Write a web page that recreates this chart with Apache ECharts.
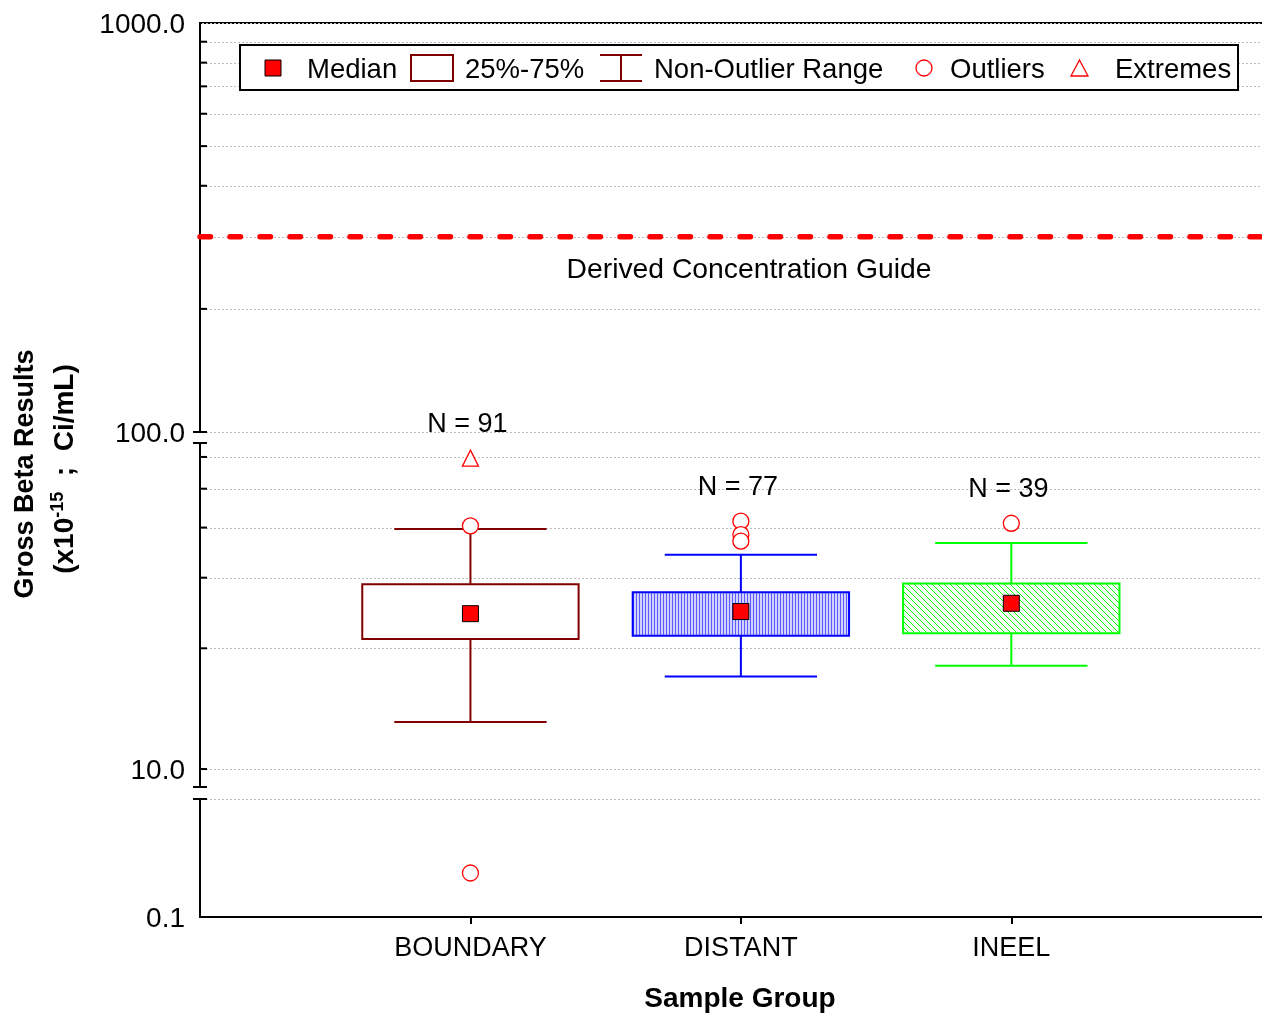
<!DOCTYPE html>
<html>
<head>
<meta charset="utf-8">
<script src="https://cdn.jsdelivr.net/npm/echarts@6/dist/echarts.min.js"></script>
<style>
html,body{margin:0;padding:0;background:#fff;}
#c{width:1262px;height:1013px;}
</style>
</head>
<body>
<div id="c"></div>
<script>
// ---------------- data ----------------
const categories = ['BOUNDARY', 'DISTANT', 'INEEL'];
const counts = [91, 77, 39];
const whiskerLow = [13.1, 17.0, 18.1];
const quartile1 = [21.1, 21.5, 21.8];
const medians = [24.4, 24.7, 25.9];
const quartile3 = [28.9, 27.6, 29.0];
const whiskerHigh = [39.7, 34.2, 36.6];
// [category index, value]
const outliers = [[0, 40.4], [0, 0.236], [1, 41.5], [1, 38.4], [1, 37.0], [2, 41.0]];
const extremes = [[0, 59.6]];
const dcgValue = 300;

// axis segments (broken log axis) and tick values
const segTop = { min: 100, max: 1000 };
const segMid = { min: 9.02, max: 65 };
const segLow = { min: 0.1, max: 1 };
const topLabels = [100, 1000];
const midLabels = [10];
const lowLabels = [0.1];
const topMinor = [200, 300, 400, 500, 600, 700, 800, 900];
const midMinor = [20, 30, 40, 50, 60];

// ---------------- styling ----------------
const FONT = '"Liberation Sans", Arial, sans-serif';
const X_MAX = 3.927;
const BOX_W = 0.80, CAP_W = 0.563;
const boxColors = ['#800000', '#0000ff', '#00ff00'];

function makePattern(kind) {
  const cv = document.createElement('canvas');
  if (kind === 'vertical') {
    cv.width = 3; cv.height = 3;
    const g = cv.getContext('2d');
    g.fillStyle = '#d2d2ff'; g.fillRect(0, 0, 3, 3);
    g.fillStyle = '#5a5aff'; g.fillRect(0, 0, 1, 3);
  } else {
    const n = 6;
    cv.width = n; cv.height = n;
    const g = cv.getContext('2d');
    g.fillStyle = '#ffffff'; g.fillRect(0, 0, n, n);
    g.strokeStyle = '#00ff00'; g.lineWidth = 1;
    g.beginPath();
    g.moveTo(-1, -1); g.lineTo(n + 1, n + 1);
    g.moveTo(n - 1, -1); g.lineTo(n + 1, 1);
    g.moveTo(-1, n - 1); g.lineTo(1, n + 1);
    g.stroke();
  }
  return { image: cv, repeat: 'repeat' };
}
const boxFills = ['#ffffff', makePattern('vertical'), makePattern('diag')];

function labelFmt(wanted) {
  return function (v) {
    for (const w of wanted) {
      if (Math.abs(Math.log10(v) - Math.log10(w)) < 1e-6) return '{t|' + w.toFixed(1) + '}';
    }
    return '';
  };
}

function yAxisCfg(gi, seg, wanted) {
  return {
    gridIndex: gi, type: 'log', logBase: 10, min: seg.min, max: seg.max,
    axisLine: { show: true, onZero: false, lineStyle: { color: '#000', width: 2 } },
    axisTick: { show: false },
    splitLine: { show: false },
    minorTick: { show: false },
    axisLabel: {
      show: true, margin: 15, color: '#000', fontSize: 28, fontFamily: FONT,
      showMinLabel: true, showMaxLabel: true, formatter: labelFmt(wanted),
      rich: { t: { color: '#000', fontSize: 28, fontFamily: FONT, padding: [5, 0, 0, 0] } }
    }
  };
}

// guide series: gridlines (kind 0), inner ticks (kind 1), break marks (kind 2)
function guideSeries(gi, gridVals, inTicks, breakTicks) {
  const data = [];
  gridVals.forEach(v => data.push([v, 0]));
  inTicks.forEach(v => data.push([v, 1]));
  breakTicks.forEach(v => data.push([v, 2]));
  return {
    type: 'custom', xAxisIndex: gi, yAxisIndex: gi, silent: true, z: 1,
    dimensions: ['v', 'kind'], encode: { y: 0 },
    data: data,
    renderItem: function (params, api) {
      const v = api.value(0), kind = api.value(1);
      const p = api.coord([0, v]);
      const r = api.coord([X_MAX, v]);
      const y = Math.round(p[1]) + 0.5;
      if (kind === 0) {
        return { type: 'line', shape: { x1: p[0] + 2, y1: y, x2: r[0], y2: y },
          style: { stroke: '#bcbcbc', lineWidth: 1, lineDash: [2, 2] } };
      }
      if (kind === 1) {
        return { type: 'line', shape: { x1: p[0], y1: p[1], x2: p[0] + 7, y2: p[1] },
          style: { stroke: '#000', lineWidth: 2 } };
      }
      return { type: 'line', shape: { x1: p[0] - 7, y1: p[1], x2: p[0] + 7, y2: p[1] },
        style: { stroke: '#000', lineWidth: 2 } };
    }
  };
}

const boxData = categories.map((c, i) => [i + 1, whiskerLow[i], quartile1[i], medians[i], quartile3[i], whiskerHigh[i]]);
const medianData = categories.map((c, i) => [i + 1, medians[i]]);
const outMid = outliers.filter(o => o[1] >= segMid.min).map(o => [o[0] + 1, o[1]]);
const outLow = outliers.filter(o => o[1] < segMid.min).map(o => [o[0] + 1, o[1]]);
const extData = extremes.map(e => [e[0] + 1, e[1]]);
const nData = categories.map((c, i) => {
  let m = whiskerHigh[i];
  outliers.forEach(o => { if (o[0] === i) m = Math.max(m, o[1]); });
  extremes.forEach(e => { if (e[0] === i) m = Math.max(m, e[1]); });
  return [i + 1, m];
});

const hollow = { color: '#ffffff', borderColor: '#ff0000', borderWidth: 1.3, opacity: 1 };

const option = {
  animation: false,
  backgroundColor: '#ffffff',
  grid: [
    { left: 200, right: 0, top: 23, height: 409 },
    { left: 200, right: 0, top: 443, height: 344 },
    { left: 200, right: 0, top: 799, height: 118 }
  ],
  xAxis: [
    { gridIndex: 0, type: 'value', min: 0, max: X_MAX, position: 'top',
      axisLine: { show: true, onZero: false, lineStyle: { color: '#000', width: 2 } },
      axisTick: { show: false }, axisLabel: { show: false }, splitLine: { show: false } },
    { gridIndex: 1, type: 'value', min: 0, max: X_MAX, show: false, splitLine: { show: false } },
    { gridIndex: 2, type: 'value', min: 0, max: X_MAX, interval: 1, position: 'bottom',
      axisLine: { show: true, onZero: false, lineStyle: { color: '#000', width: 2 } },
      axisTick: { show: true, inside: false, length: 7, customValues: [1, 2, 3], lineStyle: { color: '#000', width: 2 } },
      axisLabel: { show: true, customValues: [1, 2, 3], margin: 18, color: '#000', fontSize: 27, fontFamily: FONT,
        formatter: function (v) { const k = Math.round(v); return Math.abs(v - k) < 1e-6 ? (categories[k - 1] || '') : ''; } },
      splitLine: { show: false } }
  ],
  yAxis: [
    yAxisCfg(0, segTop, topLabels),
    yAxisCfg(1, segMid, midLabels),
    yAxisCfg(2, segLow, lowLabels)
  ],
  series: [
    guideSeries(0, topLabels.concat(topMinor), topMinor, [segTop.min]),
    guideSeries(1, midLabels.concat(midMinor), midLabels.concat(midMinor), [segMid.min, segMid.max]),
    guideSeries(2, [segLow.max], [], [segLow.max]),
    {
      name: 'Derived Concentration Guide', type: 'custom', xAxisIndex: 0, yAxisIndex: 0, silent: true, z: 5,
      dimensions: ['v'], encode: { y: 0 },
      data: [[dcgValue]],
      renderItem: function (params, api) {
        const v = api.value(0);
        const p = api.coord([0, v]);
        const r = api.coord([X_MAX, v]);
        return { type: 'line', shape: { x1: p[0], y1: p[1], x2: r[0], y2: p[1] },
          style: { stroke: '#ff0000', lineWidth: 5.5, lineDash: [10.5, 19.5], lineDashOffset: 0, lineCap: 'round' } };
      }
    },
    {
      name: 'Box', type: 'custom', xAxisIndex: 1, yAxisIndex: 1, z: 3,
      dimensions: ['x', 'lo', 'q1', 'med', 'q3', 'hi'], encode: { x: 0, y: [1, 2, 3, 4, 5] },
      data: boxData,
      renderItem: function (params, api) {
        const i = params.dataIndex;
        const x = api.value(0);
        const pLo = api.coord([x, api.value(1)]);
        const pQ1 = api.coord([x, api.value(2)]);
        const pQ3 = api.coord([x, api.value(4)]);
        const pHi = api.coord([x, api.value(5)]);
        const bw = api.size([BOX_W, 0], [x, 20])[0];
        const cw = api.size([CAP_W, 0], [x, 20])[0];
        const col = boxColors[i];
        const ls = { stroke: col, lineWidth: 2 };
        const cx = pQ1[0];
        return {
          type: 'group',
          children: [
            { type: 'line', shape: { x1: cx, y1: pHi[1], x2: cx, y2: pQ3[1] }, style: ls },
            { type: 'line', shape: { x1: cx, y1: pQ1[1], x2: cx, y2: pLo[1] }, style: ls },
            { type: 'line', shape: { x1: cx - cw / 2, y1: pHi[1], x2: cx + cw / 2, y2: pHi[1] }, style: ls },
            { type: 'line', shape: { x1: cx - cw / 2, y1: pLo[1], x2: cx + cw / 2, y2: pLo[1] }, style: ls },
            { type: 'rect', shape: { x: cx - bw / 2, y: pQ3[1], width: bw, height: pQ1[1] - pQ3[1] },
              style: { fill: boxFills[i], stroke: col, lineWidth: 2 } }
          ]
        };
      }
    },
    {
      name: 'Median', type: 'scatter', xAxisIndex: 1, yAxisIndex: 1, z: 6,
      symbol: 'rect', symbolSize: 16, data: medianData,
      itemStyle: { color: '#ff0000', borderColor: '#000', borderWidth: 1, opacity: 1 }
    },
    {
      name: 'Outliers', type: 'scatter', xAxisIndex: 1, yAxisIndex: 1, z: 6,
      symbol: 'circle', symbolSize: 16, data: outMid, itemStyle: hollow
    },
    {
      name: 'Extremes', type: 'scatter', xAxisIndex: 1, yAxisIndex: 1, z: 6,
      symbol: 'triangle', symbolSize: 16, data: extData, itemStyle: hollow
    },
    {
      name: 'N', type: 'scatter', xAxisIndex: 1, yAxisIndex: 1, z: 6, silent: true,
      symbolSize: 1, data: nData, itemStyle: { color: 'rgba(0,0,0,0)', opacity: 1 },
      label: { show: true, position: 'top', distance: 0, offset: [-3, -20], color: '#000', fontSize: 27, fontFamily: FONT,
        textBorderWidth: 0, opacity: 1,
        formatter: function (p) { return 'N = ' + counts[p.dataIndex]; } }
    },
    {
      name: 'Outliers low', type: 'scatter', xAxisIndex: 2, yAxisIndex: 2, z: 6,
      symbol: 'circle', symbolSize: 16, data: outLow, itemStyle: hollow
    }
  ],
  graphic: [
    { type: 'text', z: 100, x: 749, y: 270,
      style: { text: 'Derived Concentration Guide', fill: '#000', font: '28.3px ' + FONT, align: 'center', verticalAlign: 'middle' } },
    { type: 'text', z: 100, x: 740, y: 999,
      style: { text: 'Sample Group', fill: '#000', font: 'bold 28px ' + FONT, align: 'center', verticalAlign: 'middle' } },
    { type: 'text', z: 100, x: 26, y: 474, rotation: Math.PI / 2,
      style: { text: 'Gross Beta Results', fill: '#000', font: 'bold 27px ' + FONT, align: 'center', verticalAlign: 'middle' } },
    { type: 'text', z: 100, x: 65, y: 469, rotation: Math.PI / 2,
      style: {
        text: '{m|(x10}{s|-15}{m|  ;  Ci/mL)}', align: 'center', verticalAlign: 'middle',
        rich: {
          m: { fill: '#000', fontSize: 28, fontWeight: 'bold', fontFamily: FONT },
          s: { fill: '#000', fontSize: 18, fontWeight: 'bold', fontFamily: FONT, padding: [0, 0, 14, 0] }
        }
      } },
    // legend
    { type: 'rect', z: 100, shape: { x: 240, y: 45, width: 998, height: 45 },
      style: { fill: '#fff', stroke: '#000', lineWidth: 2 } },
    { type: 'rect', z: 101, shape: { x: 265, y: 60, width: 16, height: 16 },
      style: { fill: '#ff0000', stroke: '#000', lineWidth: 1 } },
    { type: 'text', z: 101, x: 307, y: 70,
      style: { text: 'Median', fill: '#000', font: '27.5px ' + FONT, align: 'left', verticalAlign: 'middle' } },
    { type: 'rect', z: 101, shape: { x: 411, y: 55, width: 42, height: 26 },
      style: { fill: '#fff', stroke: '#800000', lineWidth: 2 } },
    { type: 'text', z: 101, x: 465, y: 70,
      style: { text: '25%-75%', fill: '#000', font: '27.5px ' + FONT, align: 'left', verticalAlign: 'middle' } },
    { type: 'line', z: 101, shape: { x1: 600, y1: 55, x2: 642, y2: 55 }, style: { stroke: '#800000', lineWidth: 2 } },
    { type: 'line', z: 101, shape: { x1: 600, y1: 81, x2: 642, y2: 81 }, style: { stroke: '#800000', lineWidth: 2 } },
    { type: 'line', z: 101, shape: { x1: 621, y1: 55, x2: 621, y2: 81 }, style: { stroke: '#800000', lineWidth: 2 } },
    { type: 'text', z: 101, x: 654, y: 70,
      style: { text: 'Non-Outlier Range', fill: '#000', font: '27.5px ' + FONT, align: 'left', verticalAlign: 'middle' } },
    { type: 'circle', z: 101, shape: { cx: 924, cy: 68, r: 8 },
      style: { fill: '#fff', stroke: '#ff0000', lineWidth: 1.3 } },
    { type: 'text', z: 101, x: 950, y: 70,
      style: { text: 'Outliers', fill: '#000', font: '27.5px ' + FONT, align: 'left', verticalAlign: 'middle' } },
    { type: 'polygon', z: 101, shape: { points: [[1079.5, 60], [1088, 76], [1071, 76]] },
      style: { fill: '#fff', stroke: '#ff0000', lineWidth: 1.3 } },
    { type: 'text', z: 101, x: 1115, y: 70,
      style: { text: 'Extremes', fill: '#000', font: '27.5px ' + FONT, align: 'left', verticalAlign: 'middle' } }
  ]
};

const chart = echarts.init(document.getElementById('c'), null, { renderer: 'canvas' });
chart.setOption(option);
</script>
</body>
</html>
